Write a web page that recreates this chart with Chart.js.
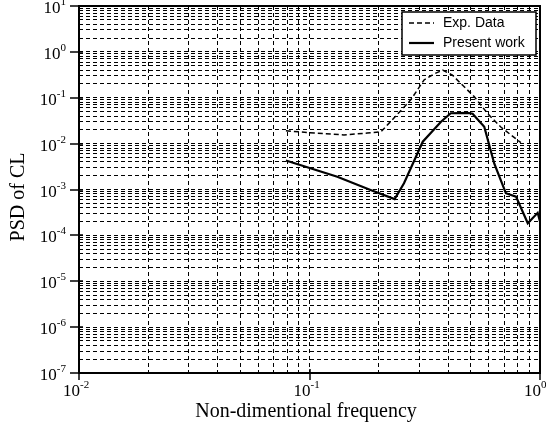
<!DOCTYPE html>
<html><head><meta charset="utf-8">
<script src="https://cdn.jsdelivr.net/npm/chart.js@4/dist/chart.umd.min.js"></script>
<style>html,body{margin:0;padding:0;background:#fff}canvas{display:block}</style>
</head><body>
<canvas id="c" width="546" height="426"></canvas>
<script>
// ---- data ----
const expFreq = [0.079, 0.105, 0.141, 0.178, 0.204, 0.257, 0.275, 0.314, 0.347, 0.378, 0.417, 0.518, 0.593, 0.676, 0.826];
const expPSD  = [0.019, 0.017, 0.0155, 0.017, 0.018, 0.062, 0.09, 0.244, 0.33, 0.40, 0.31, 0.106, 0.045, 0.023, 0.0105];
const simFreq = [0.079, 0.132, 0.184, 0.234, 0.257, 0.31, 0.372, 0.41, 0.485, 0.51, 0.573, 0.633, 0.711, 0.787, 0.885, 0.977, 1.0];
const simPSD  = [0.0043, 0.0019, 0.00098, 0.00062, 0.00137, 0.011, 0.030, 0.046, 0.047, 0.045, 0.0234, 0.0037, 0.00083, 0.0007, 0.000184, 0.00031, 0.0002];
const seriesLabels = ['Exp. Data', 'Present work'];
const xTickExponents = [-2, -1, 0];
const yTickExponents = [1, 0, -1, -2, -3, -4, -5, -6, -7];
const xTitle = 'Non-dimentional frequency';
const yTitle = 'PSD of CL';

function logGrid(minExp, maxExp) {
  const v = [];
  for (let e = minExp; e < maxExp; e++) for (let m = 1; m < 10; m++) v.push(m * Math.pow(10, e));
  v.push(Math.pow(10, maxExp));
  return v;
}

const decor = {
  id: 'decor',
  afterDraw(chart) {
    const { ctx, chartArea: a, scales: { x, y } } = chart;
    ctx.save();
    ctx.setLineDash([]);
    ctx.strokeStyle = '#000';
    ctx.lineWidth = 2;
    ctx.strokeRect(a.left, a.top, a.right - a.left, a.bottom - a.top);
    ctx.lineWidth = 1.5;
    xTickExponents.forEach(e => {
      const px = Math.round(x.getPixelForValue(Math.pow(10, e)));
      ctx.beginPath(); ctx.moveTo(px, a.bottom - 4); ctx.lineTo(px, a.bottom + 7); ctx.stroke();
    });
    yTickExponents.forEach(e => {
      const py = Math.round(y.getPixelForValue(Math.pow(10, e)));
      ctx.beginPath(); ctx.moveTo(a.left - 9, py); ctx.lineTo(a.left + 4, py); ctx.stroke();
    });
    ctx.fillStyle = '#000';
    ctx.textBaseline = 'alphabetic';
    const big = '17px "Liberation Serif"', small = '11px "Liberation Serif"';
    xTickExponents.forEach(e => {
      const px = x.getPixelForValue(Math.pow(10, e));
      ctx.textAlign = 'left';
      ctx.font = big; ctx.fillText('10', px - 16, 396);
      const w = ctx.measureText('10').width;
      ctx.font = small; ctx.fillText(String(e), px - 16 + w, 388);
    });
    yTickExponents.forEach(e => {
      const py = y.getPixelForValue(Math.pow(10, e));
      ctx.textAlign = 'right';
      ctx.font = small; const es = String(e); const ew = ctx.measureText(es).width;
      ctx.fillText(es, 66, py - 1);
      ctx.font = big; ctx.fillText('10', 66 - ew, py + 7);
    });
    // axis titles
    ctx.font = '20px "Liberation Serif"';
    ctx.textAlign = 'center'; ctx.textBaseline = 'middle';
    ctx.fillText(xTitle, 306, 412);
    ctx.save();
    ctx.translate(19, 197); ctx.rotate(-Math.PI / 2);
    ctx.fillText(yTitle, 0, 0);
    ctx.restore();
    // legend
    const bx = 402, by = 12, bw = 134, bh = 43;
    ctx.fillStyle = '#fff'; ctx.fillRect(bx, by, bw, bh);
    ctx.strokeStyle = '#000'; ctx.lineWidth = 1.5; ctx.strokeRect(bx, by, bw, bh);
    ctx.font = '14px "Liberation Sans"';
    ctx.textAlign = 'left'; ctx.textBaseline = 'middle'; ctx.fillStyle = '#000';
    chart.data.datasets.forEach((ds, i) => {
      const ly = by + 11 + i * 20;
      ctx.lineWidth = ds.borderWidth;
      ctx.setLineDash(ds.borderDash || []);
      ctx.beginPath(); ctx.moveTo(409, ly); ctx.lineTo(434, ly); ctx.stroke();
      ctx.setLineDash([]);
      ctx.fillText(ds.label, 443, ly);
    });
    ctx.restore();
  }
};

const gridScale = (min, max, minExp, maxExp) => ({
  type: 'logarithmic', min, max,
  afterBuildTicks: s => { s.ticks = logGrid(minExp, maxExp).map(v => ({ value: v })); },
  ticks: { display: false },
  grid: { color: '#000', lineWidth: 1, drawTicks: false },
  border: { display: false, dash: [4, 3] }
});

new Chart(document.getElementById('c'), {
  type: 'line',
  data: {
    datasets: [
      { label: seriesLabels[0], data: expFreq.map((f, i) => ({ x: f, y: expPSD[i] })),
        borderColor: '#000', borderWidth: 1.5, borderDash: [5, 3], pointRadius: 0, fill: false, tension: 0 },
      { label: seriesLabels[1], data: simFreq.map((f, i) => ({ x: f, y: simPSD[i] })),
        borderColor: '#000', borderWidth: 2.2, pointRadius: 0, fill: false, tension: 0 }
    ]
  },
  options: {
    responsive: false, animation: false, devicePixelRatio: 1,
    layout: { padding: { left: 79, right: 6, top: 6, bottom: 53 } },
    plugins: { legend: { display: false }, tooltip: { enabled: false } },
    scales: {
      x: gridScale(0.01, 1, -2, 0),
      y: gridScale(1e-7, 10, -7, 1)
    }
  },
  plugins: [decor]
});
</script>
</body></html>
